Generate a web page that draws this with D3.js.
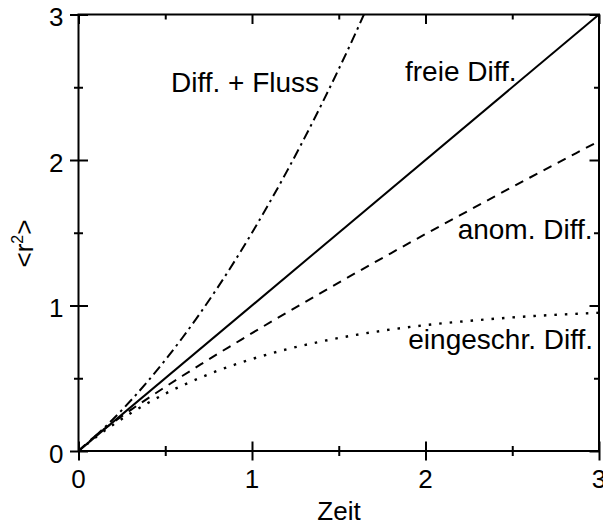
<!DOCTYPE html>
<html>
<head>
<meta charset="utf-8">
<script src="https://cdn.jsdelivr.net/npm/d3@7"></script>
<style>
  html, body { margin: 0; padding: 0; background: #fff; }
  svg { display: block; font-family: "Liberation Sans", Arial, sans-serif; }
</style>
</head>
<body>
<svg id="chart" width="603" height="529"></svg>
<script>
// Mean squared displacement <r²> versus time for four transport regimes
const timeFree   = [0, 3];
const msdFree    = [0, 3];

const timeFlow   = [0, 0.1, 0.2, 0.3, 0.4, 0.5, 0.6, 0.7, 0.8, 0.9, 1.0, 1.1, 1.2, 1.3, 1.4, 1.5, 1.6, 1.645];
const msdFlow    = [0, 0.105, 0.22, 0.345, 0.48, 0.625, 0.78, 0.945, 1.12, 1.305, 1.5, 1.705, 1.92, 2.145, 2.38, 2.625, 2.88, 3.0];

const timeAnom   = [0, 0.1, 0.2, 0.3, 0.4, 0.5, 0.6, 0.7, 0.8, 0.9, 1.0, 1.2, 1.4, 1.6, 1.8, 2.0, 2.2, 2.4, 2.6, 2.8, 3.0];
const msdAnom    = [0, 0.107, 0.197, 0.281, 0.362, 0.440, 0.517, 0.592, 0.666, 0.738, 0.81, 0.951, 1.089, 1.225, 1.359, 1.491, 1.621, 1.750, 1.878, 2.004, 2.13];

const timeConf   = [0, 0.1, 0.2, 0.3, 0.4, 0.5, 0.6, 0.7, 0.8, 0.9, 1.0, 1.2, 1.4, 1.6, 1.8, 2.0, 2.2, 2.4, 2.6, 2.8, 3.0];
const msdConf    = [0, 0.095, 0.181, 0.259, 0.330, 0.394, 0.451, 0.503, 0.551, 0.593, 0.632, 0.699, 0.753, 0.798, 0.835, 0.865, 0.889, 0.909, 0.926, 0.939, 0.950];

const majorTicks = [0, 1, 2, 3];
const minorTicks = [0.5, 1.5, 2.5];

const curveLabels = ["Diff. + Fluss", "freie Diff.", "anom. Diff.", "eingeschr. Diff."];
const xTitle = "Zeit";

const svg = d3.select("#chart");
const plotLeft = 78.5, plotRight = 599, plotTop = 14.5, plotBottom = 451;

const x = d3.scaleLinear().domain([0, 3]).range([plotLeft, plotRight]);
const y = d3.scaleLinear().domain([0, 3]).range([plotBottom, plotTop]);

svg.append("defs").append("clipPath").attr("id", "plotClip")
  .append("rect").attr("x", plotLeft).attr("y", plotTop)
  .attr("width", plotRight - plotLeft).attr("height", plotBottom - plotTop);

const line = d3.line().x(d => x(d[0])).y(d => y(d[1])).curve(d3.curveMonotoneX);
const zip = (a, b) => a.map((v, i) => [v, b[i]]);

const series = [
  { t: timeFlow, v: msdFlow, dash: "10,4.5,2.5,4.5", w: 2 },
  { t: timeFree, v: msdFree, dash: null, w: 2 },
  { t: timeAnom, v: msdAnom, dash: "9,7", w: 2 },
  { t: timeConf, v: msdConf, dash: "2.5,8", w: 2.4 }
];

const plot = svg.append("g").attr("clip-path", "url(#plotClip)");
plot.selectAll("path.curve").data(series).join("path")
  .attr("class", "curve")
  .attr("d", s => line(zip(s.t, s.v)))
  .attr("fill", "none")
  .attr("stroke", "#000")
  .attr("stroke-width", s => s.w)
  .attr("stroke-dasharray", s => s.dash);

// Tick marks: outward + inward on bottom/left, inward on top/right
function tickGroup(axisFn, scale, values, size, tx, ty) {
  const g = svg.append("g").attr("transform", `translate(${tx},${ty})`)
    .call(axisFn(scale).tickValues(values).tickSize(size).tickFormat(""));
  g.select(".domain").remove();
  g.selectAll(".tick line").attr("stroke", "#000").attr("stroke-width", 2);
  return g;
}
// bottom
tickGroup(d3.axisBottom, x, majorTicks, 9.5, 0, plotBottom);
tickGroup(d3.axisTop, x, majorTicks, 9.5, 0, plotBottom);
tickGroup(d3.axisBottom, x, minorTicks, 5, 0, plotBottom);
tickGroup(d3.axisTop, x, minorTicks, 5, 0, plotBottom);
// top
tickGroup(d3.axisBottom, x, majorTicks, 9.5, 0, plotTop);
tickGroup(d3.axisBottom, x, minorTicks, 5, 0, plotTop);
// left
tickGroup(d3.axisLeft, y, majorTicks, 8.5, plotLeft, 0);
tickGroup(d3.axisRight, y, majorTicks, 9.5, plotLeft, 0);
tickGroup(d3.axisLeft, y, minorTicks, 4.5, plotLeft, 0);
tickGroup(d3.axisRight, y, minorTicks, 4.5, plotLeft, 0);
// right
tickGroup(d3.axisLeft, y, majorTicks, 9.5, plotRight, 0);
tickGroup(d3.axisLeft, y, minorTicks, 5, plotRight, 0);

// Frame
svg.append("rect").attr("x", plotLeft).attr("y", plotTop)
  .attr("width", plotRight - plotLeft).attr("height", plotBottom - plotTop)
  .attr("fill", "none").attr("stroke", "#000").attr("stroke-width", 2);

// Tick labels
svg.append("g").selectAll("text").data(majorTicks).join("text")
  .attr("x", d => x(d)).attr("y", 488)
  .attr("text-anchor", "middle").attr("font-size", 26)
  .text(d3.format("d"));
svg.append("g").selectAll("text").data(majorTicks).join("text")
  .attr("x", 63.5).attr("y", d => y(d) + 11.5)
  .attr("text-anchor", "end").attr("font-size", 26)
  .text(d3.format("d"));

// Axis titles
svg.append("text").attr("x", 339).attr("y", 520)
  .attr("text-anchor", "middle").attr("font-size", 26).text(xTitle);

const yt = svg.append("text")
  .attr("transform", "translate(33,243.5) rotate(-90)")
  .attr("text-anchor", "middle").attr("font-size", 26);
yt.append("tspan").text("<r");
yt.append("tspan").attr("font-size", 16).attr("dy", -10).text("2");
yt.append("tspan").attr("dy", 10).text(">");

// Curve annotations
const ann = [
  { text: curveLabels[0], x: 171, y: 92, anchor: "start" },
  { text: curveLabels[1], x: 405, y: 81, anchor: "start" },
  { text: curveLabels[2], x: 592.5, y: 239, anchor: "end" },
  { text: curveLabels[3], x: 593, y: 349, anchor: "end" }
];
svg.append("g").selectAll("text").data(ann).join("text")
  .attr("x", d => d.x).attr("y", d => d.y)
  .attr("text-anchor", d => d.anchor)
  .attr("font-size", 28)
  .text(d => d.text);
</script>
</body>
</html>
